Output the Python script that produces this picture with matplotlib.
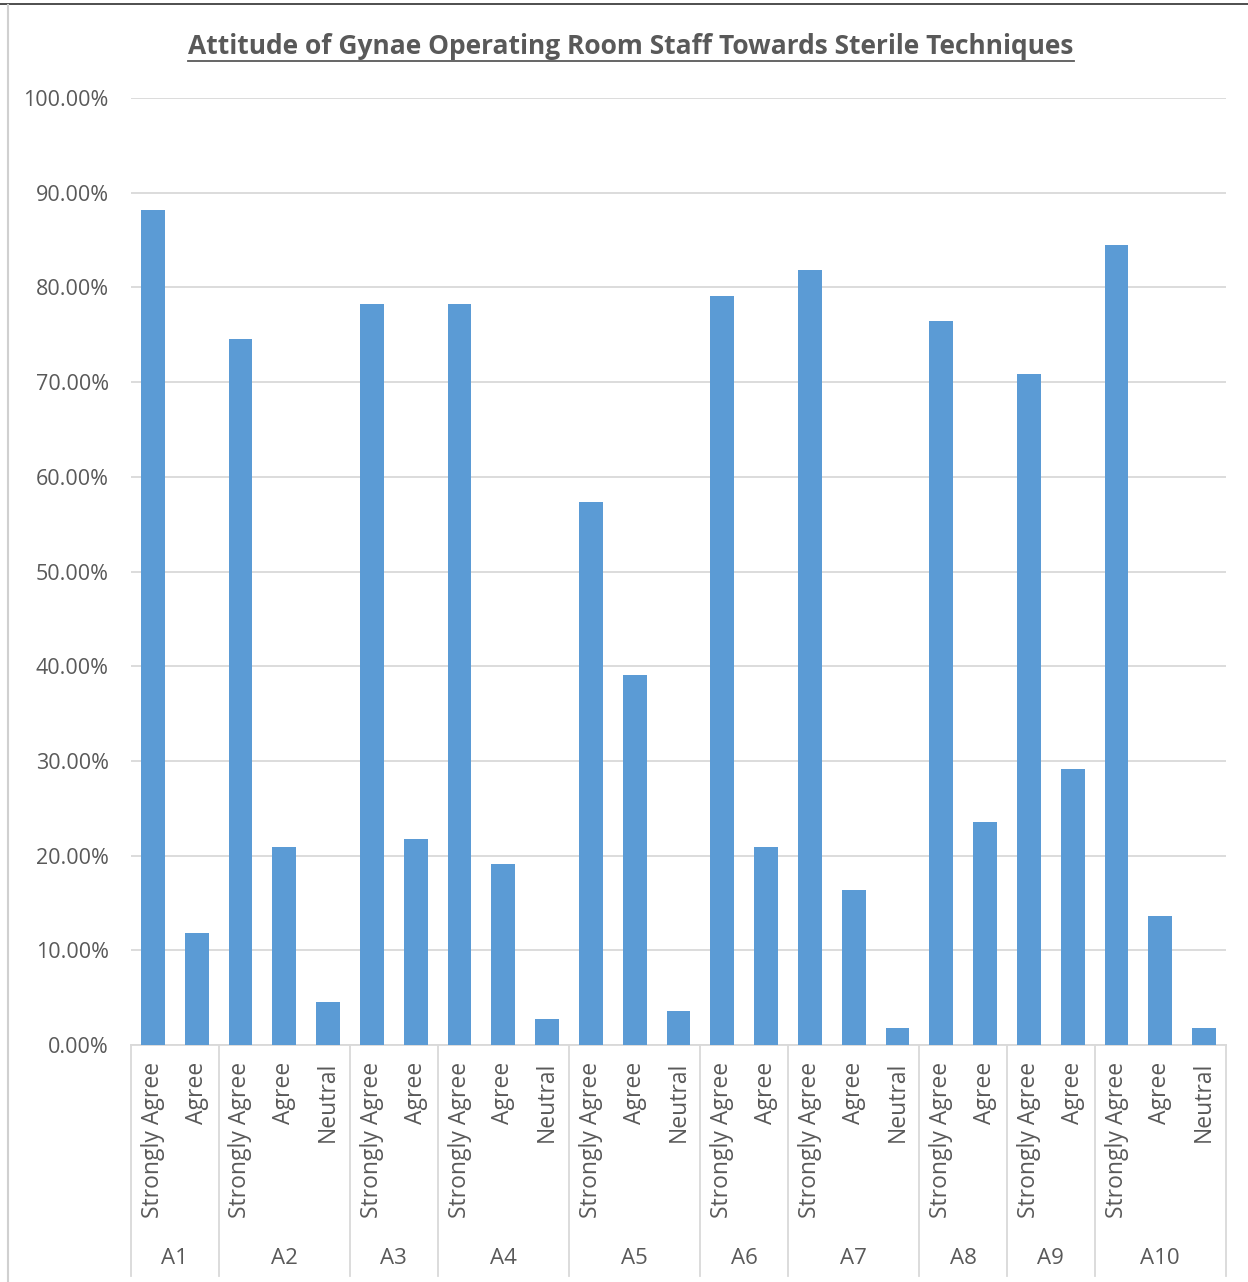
import matplotlib
matplotlib.use("Agg")
import matplotlib.pyplot as plt
from matplotlib.lines import Line2D
from matplotlib.ticker import FuncFormatter
import numpy as np

#### Data ####
groups = ["A1", "A2", "A3", "A4", "A5", "A6", "A7", "A8", "A9", "A10"]
group_answers = [
    ["Strongly Agree", "Agree"],
    ["Strongly Agree", "Agree", "Neutral"],
    ["Strongly Agree", "Agree"],
    ["Strongly Agree", "Agree", "Neutral"],
    ["Strongly Agree", "Agree", "Neutral"],
    ["Strongly Agree", "Agree"],
    ["Strongly Agree", "Agree", "Neutral"],
    ["Strongly Agree", "Agree"],
    ["Strongly Agree", "Agree"],
    ["Strongly Agree", "Agree", "Neutral"],
]
group_values = [
    [88.2, 11.8],
    [74.5, 20.9, 4.5],
    [78.2, 21.8],
    [78.2, 19.1, 2.7],
    [57.3, 39.1, 3.6],
    [79.1, 20.9],
    [81.8, 16.4, 1.8],
    [76.4, 23.6],
    [70.9, 29.1],
    [84.5, 13.6, 1.8],
]
title = "Attitude of Gynae Operating Room Staff Towards Sterile Techniques"

#### Style ####
plt.rcParams["font.family"] = ["Open Sans", "DejaVu Sans"]
text_grey = "#595959"
line_grey = "#d9d9d9"
bar_blue = "#5b9bd5"

W, H, DPI = 1248, 1282, 100
fig = plt.figure(figsize=(W / DPI, H / DPI), dpi=DPI)
ax = fig.add_axes([131 / W, 1 - 1045 / H, (1226 - 131) / W, (1045 - 98) / H])

labels = [a for g in group_answers for a in g]
values = [v for g in group_values for v in g]
x = np.arange(len(values))

ax.bar(x, values, width=0.54, color=bar_blue, zorder=3)
ax.set_xlim(-0.5, len(values) - 0.5)
ax.set_ylim(0, 100)
ax.set_yticks(np.arange(0, 101, 10))
ax.yaxis.set_major_formatter(FuncFormatter(lambda v, p: f"{v:.2f}%"))
ax.tick_params(axis="y", length=0, pad=16, labelsize=15.5, labelcolor=text_grey)
ax.set_xticks([])
ax.grid(axis="y", color=line_grey, linewidth=1.3, zorder=0)
for s in ["top", "right", "left"]:
    ax.spines[s].set_visible(False)
ax.spines["bottom"].set_color(line_grey)
ax.spines["bottom"].set_linewidth(1.3)

#### Category axis (two levels) ####
trans = ax.get_xaxis_transform()
axh = 1045 - 98
y_lab = -(1062 - 1045) / axh
y_grp = -(1258 - 1045) / axh
y_end = -(1276 - 1045) / axh

for xi, lab in zip(x, labels):
    ax.text(xi, y_lab, lab, rotation=90, ha="center", va="top",
            fontsize=16.5, color=text_grey, transform=trans)

start = 0
bounds = [-0.5]
for g, ans in zip(groups, group_answers):
    n = len(ans)
    ax.text(start + (n - 1) / 2, y_grp, g, ha="center", va="center",
            fontsize=16, color=text_grey, transform=trans)
    start += n
    bounds.append(start - 0.5)

for b in bounds:
    ax.plot([b, b], [0, y_end], color=line_grey, linewidth=1.3,
            transform=trans, clip_on=False)

#### Title with underline ####
t = fig.text(631 / W, 1 - 46 / H, title, ha="center", va="center",
             fontsize=19, fontweight="bold", color=text_grey)
fig.canvas.draw()
bb = t.get_window_extent()
uy = 1 - 61 / H
fig.add_artist(Line2D([bb.x0 / W, bb.x1 / W], [uy, uy], color=text_grey,
                      linewidth=1.3))

#### Frame bits from the page ####
fig.add_artist(Line2D([0, 1], [1 - 4 / H, 1 - 4 / H], color="#303030", linewidth=1.2))
fig.add_artist(Line2D([8 / W, 8 / W], [0, 1 - 5 / H], color="#d0d0d0", linewidth=1.5))

fig.savefig("out.png", dpi=DPI)
